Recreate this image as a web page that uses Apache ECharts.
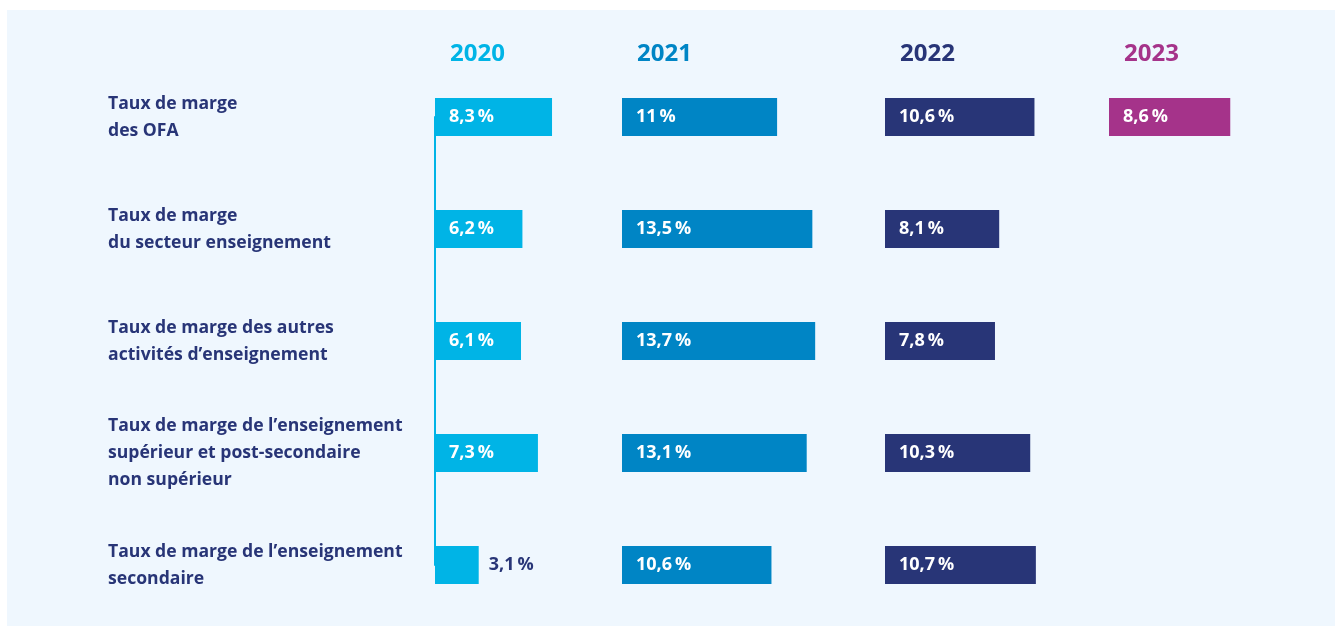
<!DOCTYPE html>
<html>
<head>
<meta charset="utf-8">
<script src="https://cdn.jsdelivr.net/npm/echarts@6/dist/echarts.min.js"></script>
<style>
  html, body { margin: 0; padding: 0; background: #ffffff; }
  #panel { position: absolute; left: 7px; top: 10px; width: 1328px; height: 616px; background: #eff7fe; }
  #chart { position: absolute; left: 0; top: 0; width: 1335px; height: 626px; }
</style>
</head>
<body>
<div id="panel"></div>
<div id="chart"></div>
<script>
const categories = [
  'Taux de marge\ndes OFA',
  'Taux de marge\ndu secteur enseignement',
  'Taux de marge des autres\nactivités d’enseignement',
  'Taux de marge de l’enseignement\nsupérieur et post-secondaire\nnon supérieur',
  'Taux de marge de l’enseignement\nsecondaire'
];
const years = ['2020', '2021', '2022', '2023'];
const values2020 = [8.3, 6.2, 6.1, 7.3, 3.1];
const values2021 = [11, 13.5, 13.7, 13.1, 10.6];
const values2022 = [10.6, 8.1, 7.8, 10.3, 10.7];
const values2023 = [8.6, null, null, null, null];

const seriesValues = [values2020, values2021, values2022, values2023];
const colors = ['#00b4e6', '#0085c5', '#283577', '#a5338a'];
const navy = '#283577';
const FONT = '"Open Sans", sans-serif';

const gridLefts = [435, 622, 885, 1109];
const pxPerUnit = 14.1;
const xMax = 14;
const gridTop = 117;
const gridBottomY = 565;

function fmt(v) {
  return String(v).replace('.', ',') + '\u2009%';
}

const grids = [], xAxes = [], yAxes = [], series = [], titles = [];
years.forEach(function (yr, i) {
  grids.push({
    left: gridLefts[i], top: gridTop,
    width: pxPerUnit * xMax, height: gridBottomY - gridTop,
    containLabel: false
  });
  xAxes.push({
    type: 'value', gridIndex: i, min: 0, max: xMax, show: false
  });
  yAxes.push({
    type: 'category', gridIndex: i, data: categories, inverse: true,
    boundaryGap: false,
    axisLine: { show: i === 0, lineStyle: { color: colors[0], width: 2 } },
    axisTick: { show: false },
    splitLine: { show: false },
    axisLabel: {
      show: i === 0, align: 'left', margin: 327,
      color: navy, fontFamily: FONT, fontSize: 17.6, fontWeight: 'bold', lineHeight: 27
    }
  });
  series.push({
    type: 'bar', xAxisIndex: i, yAxisIndex: i, barWidth: 38,
    itemStyle: { color: colors[i] },
    animation: false,
    data: seriesValues[i].map(function (v) {
      if (v === null) return null;
      const small = v < 4;
      return {
        value: v,
        label: small
          ? { position: 'right', distance: 10, color: navy }
          : { position: 'insideLeft', distance: 14, color: '#ffffff' }
      };
    }),
    label: {
      show: true, fontFamily: FONT, fontSize: 18, fontWeight: 'bold',
      formatter: function (p) { return fmt(p.value); }
    }
  });
  titles.push({
    text: yr, left: gridLefts[i] + 15, top: 42, padding: 0,
    textStyle: { color: colors[i], fontFamily: FONT, fontSize: 24, fontWeight: 'bold' }
  });
});

const chart = echarts.init(document.getElementById('chart'), null, { renderer: 'canvas' });
chart.setOption({
  animation: false,
  backgroundColor: 'transparent',
  title: titles,
  grid: grids,
  xAxis: xAxes,
  yAxis: yAxes,
  series: series
});
</script>
</body>
</html>
